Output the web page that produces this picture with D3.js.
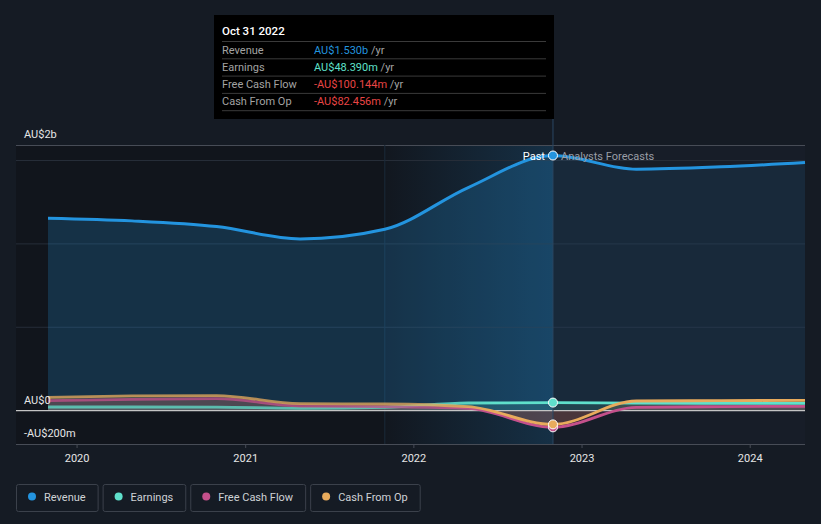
<!DOCTYPE html>
<html>
<head>
<meta charset="utf-8">
<script src="https://cdn.jsdelivr.net/npm/d3@7"></script>
<style>
  body { margin: 0; background: #151b24; font-family: Roboto, "Open Sans", sans-serif; }
  svg { display: block; }
</style>
</head>
<body>
<svg id="chart"></svg>
<script>
// past report dates + forecast dates (forecast starts at the last report)
const pastDates = ["2019-10-31", "2020-04-30", "2020-10-31", "2021-04-30", "2021-10-31", "2022-04-30", "2022-10-31"];
const forecastDates = ["2023-04-30", "2023-10-31", "2024-04-30"];

// values in AU$ millions
const revenue = [1154, 1138, 1104, 1030, 1088, 1338, 1530, 1448, 1462, 1488];
const earnings = [22, 22, 21, 14, 20, 46, 48.39, 45, 44, 44];
const freeCashFlow = [60, 68, 72, 28, 24, 14, -100.144, 20, 24, 26];
const cashFromOp = [80, 88, 90, 42, 40, 24, -82.456, 58, 60, 62];

const seriesNames = ["Revenue", "Earnings", "Free Cash Flow", "Cash From Op"];
const seriesColors = ["#2394df", "#5fe0cb", "#c4508b", "#e8ab5c"];

const yTickValues = [-200, 0, 1593];
const yTickLabels = ["-AU$200m", "AU$0", "AU$2b"];
const gridValues = [500, 1000, 1500];
const yearTicks = ["2020", "2021", "2022", "2023", "2024"];

const tooltipTitle = "Oct 31 2022";
const tooltipValues = ["AU$1.530b", "AU$48.390m", "-AU$100.144m", "-AU$82.456m"];
const tooltipColors = ["#2394df", "#5fe0cb", "#e84545", "#e84545"];

const width = 821, height = 524;
const svg = d3.select("#chart").attr("width", width).attr("height", height);

const parse = d3.timeParse("%Y-%m-%d");
const dates = pastDates.concat(forecastDates).map(parse);
const nowDate = parse(pastDates[pastDates.length - 1]);
const highlightDate = parse(pastDates[pastDates.length - 3]);

const plotLeft = 16, plotRight = 805, plotTop = 145, plotBottom = 444;

const x = d3.scaleTime()
  .domain([dates[0], dates[dates.length - 1]])
  .range([48, plotRight]);

const y = d3.scaleLinear()
  .domain([-200, 1593])
  .range([plotBottom, plotTop]);

const xNow = x(nowDate);
const xHi = x(highlightDate);

const defs = svg.append("defs");

// highlight gradient for the last year of actuals
const hg = defs.append("linearGradient")
  .attr("id", "hiGrad")
  .attr("gradientUnits", "userSpaceOnUse")
  .attr("x1", xHi).attr("x2", xNow).attr("y1", 0).attr("y2", 0);
hg.append("stop").attr("offset", 0).attr("stop-color", "#2394df").attr("stop-opacity", 0);
hg.append("stop").attr("offset", 1).attr("stop-color", "#2394df").attr("stop-opacity", 0.2);

defs.append("clipPath").attr("id", "clipPast")
  .append("rect").attr("x", plotLeft).attr("y", 0).attr("width", xNow - plotLeft).attr("height", height);
defs.append("clipPath").attr("id", "clipFuture")
  .append("rect").attr("x", xNow).attr("y", 0).attr("width", plotRight - xNow).attr("height", height);

// background regions
svg.append("rect")
  .attr("x", xNow).attr("y", plotTop)
  .attr("width", plotRight - xNow).attr("height", plotBottom - plotTop)
  .attr("fill", "#171d28");
svg.append("rect")
  .attr("x", plotLeft).attr("y", plotTop)
  .attr("width", xHi - plotLeft).attr("height", plotBottom - plotTop)
  .attr("fill", "#11151c");
svg.append("rect")
  .attr("x", xHi).attr("y", plotTop)
  .attr("width", xNow - xHi).attr("height", plotBottom - plotTop)
  .attr("fill", "#12171f");
svg.append("rect")
  .attr("x", xHi).attr("y", plotTop)
  .attr("width", xNow - xHi).attr("height", plotBottom - plotTop)
  .attr("fill", "url(#hiGrad)");

// gridlines
svg.append("g").selectAll("line")
  .data(gridValues)
  .join("line")
  .attr("x1", plotLeft).attr("x2", plotRight)
  .attr("y1", d => y(d)).attr("y2", d => y(d))
  .attr("stroke", "#262d38").attr("stroke-width", 1);

svg.append("line")
  .attr("x1", plotLeft).attr("x2", plotRight)
  .attr("y1", plotTop + 0.5).attr("y2", plotTop + 0.5)
  .attr("stroke", "#474c56");

svg.append("line")
  .attr("x1", xHi).attr("x2", xHi)
  .attr("y1", plotTop).attr("y2", plotBottom)
  .attr("stroke", "#1b2a3a");

// series
const seriesData = [revenue, earnings, freeCashFlow, cashFromOp].map((vals, i) => ({
  name: seriesNames[i],
  color: seriesColors[i],
  points: vals.map((v, j) => ({ date: dates[j], value: v }))
}));

const area = d3.area()
  .x(d => x(d.date))
  .y0(y(0))
  .y1(d => y(d.value))
  .curve(d3.curveMonotoneX);

const line = d3.line()
  .x(d => x(d.date))
  .y(d => y(d.value))
  .curve(d3.curveMonotoneX);

const areaPast = svg.append("g").attr("clip-path", "url(#clipPast)");
const areaFuture = svg.append("g").attr("clip-path", "url(#clipFuture)");

seriesData.forEach((s, i) => {
  areaPast.append("path")
    .attr("d", area(s.points))
    .attr("fill", s.color)
    .attr("fill-opacity", i === 0 ? 0.22 : 0.16);
  areaFuture.append("path")
    .attr("d", area(s.points))
    .attr("fill", s.color)
    .attr("fill-opacity", i === 0 ? 0.1 : 0.14);
});

// zero line and bottom axis line
svg.append("line")
  .attr("x1", plotLeft).attr("x2", plotRight)
  .attr("y1", y(0)).attr("y2", y(0))
  .attr("stroke", "#c4c4c4").attr("stroke-width", 1.2);

svg.append("line")
  .attr("x1", plotLeft).attr("x2", plotRight)
  .attr("y1", plotBottom + 0.5).attr("y2", plotBottom + 0.5)
  .attr("stroke", "#474c56");

// line gradients so the older part of the small series look muted
seriesData.forEach((s, i) => {
  const g = defs.append("linearGradient")
    .attr("id", "lg" + i)
    .attr("gradientUnits", "userSpaceOnUse")
    .attr("x1", plotLeft).attr("x2", plotRight).attr("y1", 0).attr("y2", 0);
  const a = (xHi + 40 - plotLeft) / (plotRight - plotLeft);
  const b = (xHi + 110 - plotLeft) / (plotRight - plotLeft);
  g.append("stop").attr("offset", 0).attr("stop-color", s.color).attr("stop-opacity", i === 0 ? 1 : 0.75);
  g.append("stop").attr("offset", a).attr("stop-color", s.color).attr("stop-opacity", i === 0 ? 1 : 0.75);
  g.append("stop").attr("offset", b).attr("stop-color", s.color).attr("stop-opacity", 1);
  g.append("stop").attr("offset", 1).attr("stop-color", s.color).attr("stop-opacity", 1);
});

svg.append("g").selectAll("path")
  .data(seriesData)
  .join("path")
  .attr("d", d => line(d.points))
  .attr("fill", "none")
  .attr("stroke", (d, i) => `url(#lg${i})`)
  .attr("stroke-width", (d, i) => i === 0 ? 3 : 2.8)
  .attr("stroke-linejoin", "round");

// divider between past and forecasts
svg.append("line")
  .attr("x1", xNow).attr("x2", xNow)
  .attr("y1", 118).attr("y2", plotBottom)
  .attr("stroke", "#2a4762").attr("stroke-width", 1);

// dots at the current date
const nowIdx = pastDates.length - 1;
svg.append("g").selectAll("circle")
  .data(seriesData)
  .join("circle")
  .attr("cx", xNow)
  .attr("cy", d => y(d.points[nowIdx].value))
  .attr("r", 4.5)
  .attr("fill", d => d.color)
  .attr("stroke", "#ffffff")
  .attr("stroke-width", 1);

// Past / Analysts Forecasts
svg.append("text")
  .attr("x", xNow - 8).attr("y", 160)
  .attr("text-anchor", "end")
  .attr("fill", "#ffffff")
  .attr("font-size", 11)
  .text("Past");
svg.append("text")
  .attr("x", xNow + 8).attr("y", 160)
  .attr("fill", "#9a9ea6")
  .attr("font-size", 11)
  .text("Analysts Forecasts");

// y labels
svg.append("g").selectAll("text")
  .data(yTickValues)
  .join("text")
  .attr("x", 24)
  .attr("y", d => y(d) - 7)
  .attr("fill", "#e6e6e6")
  .attr("font-size", 11)
  .text((d, i) => yTickLabels[i]);

// x axis
const xAxis = d3.axisBottom(x)
  .tickValues(yearTicks.map(t => parse(t + "-01-01")))
  .tickFormat(d3.timeFormat("%Y"))
  .tickSize(4)
  .tickPadding(6);

const gx = svg.append("g")
  .attr("transform", `translate(0,${plotBottom})`)
  .call(xAxis);
gx.select(".domain").remove();
gx.selectAll(".tick line").attr("stroke", "#474c56");
gx.selectAll(".tick text")
  .attr("fill", "#e6e6e6")
  .attr("font-size", 11)
  .attr("font-family", "Roboto, sans-serif");

// tooltip
const tip = svg.append("g");
tip.append("rect")
  .attr("x", 214).attr("y", 15)
  .attr("width", xNow - 214 + 1).attr("height", 104)
  .attr("fill", "#000000");
tip.append("text")
  .attr("x", 222).attr("y", 35)
  .attr("fill", "#ffffff")
  .attr("font-size", 11.5)
  .attr("font-weight", 500)
  .text(tooltipTitle);

const rowH = 17.3;
seriesNames.forEach((name, i) => {
  const top = 41.5 + i * rowH;
  tip.append("line")
    .attr("x1", 222).attr("x2", 546)
    .attr("y1", top).attr("y2", top)
    .attr("stroke", "#3a3a3a");
  tip.append("text")
    .attr("x", 222).attr("y", top + 12)
    .attr("fill", "#a3a3a3")
    .attr("font-size", 11)
    .text(name);
  const t = tip.append("text")
    .attr("x", 314).attr("y", top + 12)
    .attr("font-size", 11);
  t.append("tspan").attr("fill", tooltipColors[i]).text(tooltipValues[i]);
  t.append("tspan").attr("fill", "#a3a3a3").text(" /yr");
});
tip.append("line")
  .attr("x1", 222).attr("x2", 546)
  .attr("y1", 41.5 + 4 * rowH).attr("y2", 41.5 + 4 * rowH)
  .attr("stroke", "#3a3a3a");

// legend
const legend = svg.append("g");
let lx = 16;
seriesNames.forEach((name, i) => {
  const g = legend.append("g").attr("transform", `translate(${lx},484)`);
  const box = g.append("rect")
    .attr("x", 0.5).attr("y", 0.5)
    .attr("height", 27).attr("rx", 2)
    .attr("fill", "none")
    .attr("stroke", "#3b414b");
  g.append("circle")
    .attr("cx", 16).attr("cy", 12.5)
    .attr("r", 4)
    .attr("fill", seriesColors[i]);
  const txt = g.append("text")
    .attr("x", 28).attr("y", 16.5)
    .attr("fill", "#cfd2d6")
    .attr("font-size", 11)
    .text(name);
  const w = 28 + txt.node().getComputedTextLength() + 12;
  box.attr("width", w);
  lx += w + 5;
});
</script>
</body>
</html>
